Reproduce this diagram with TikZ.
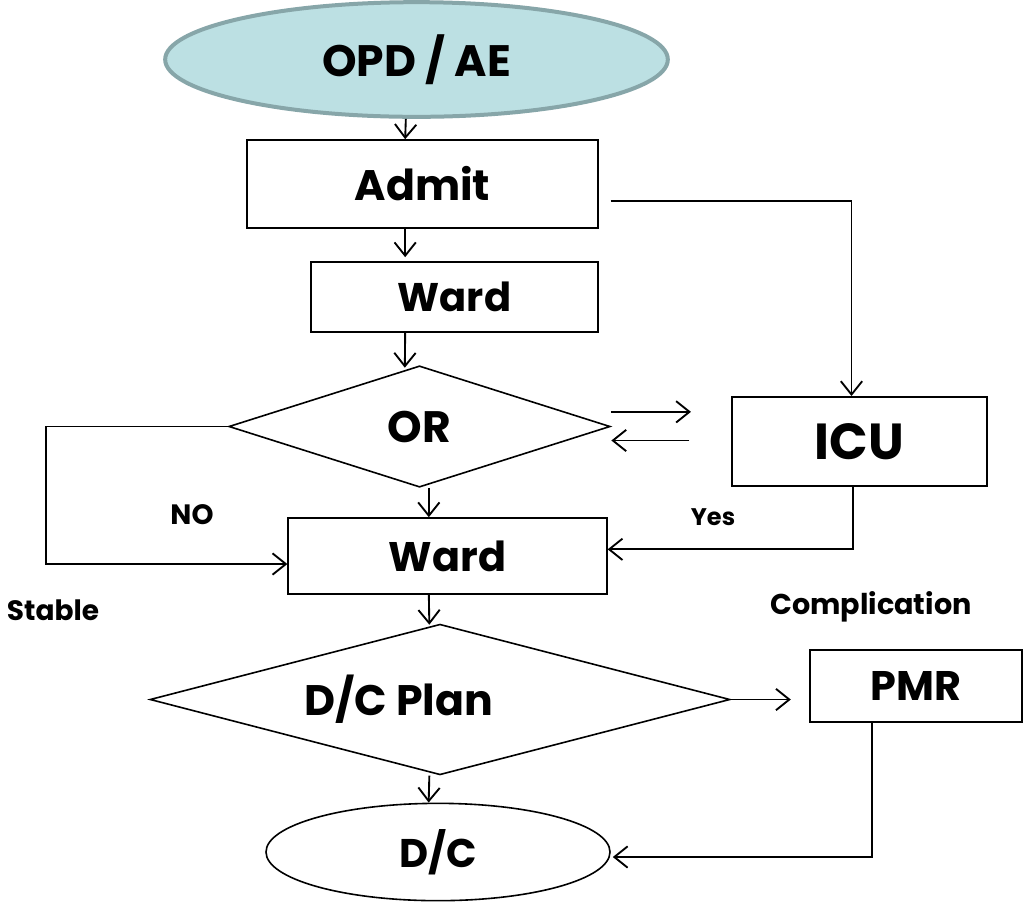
\documentclass[tikz,border=0pt]{standalone}
\usepackage{fontspec}
\setmainfont{Poppins}
\usetikzlibrary{shapes.geometric,arrows.meta}
\definecolor{opdfill}{HTML}{BCE0E3}
\definecolor{opdline}{HTML}{87A6A9}
\begin{document}
\begin{tikzpicture}[x=0.75pt,y=-0.75pt,
    txt/.style={font=\fontsize{#1pt}{#1pt}\selectfont\bfseries},
    box/.style={draw,line width=1.2pt,inner sep=0pt},
    arr/.style={line width=1.4pt,-{Straight Barb[length=10pt,width=16pt]}}]
    \useasboundingbox (0,0) rectangle (1025,901);
    \node[ellipse,draw=opdline,fill=opdfill,line width=3pt,minimum width=377pt,minimum height=86pt,txt=33] (opd) at (416.5,59.5) {OPD / AE};
    \node[box,minimum width=263pt,minimum height=66pt,txt=32] (admit) at (422.5,184) {Admit};
    \node[box,minimum width=215pt,minimum height=52.5pt,txt=30] (ward) at (454.5,297) {Ward};
    \node[box,diamond,minimum width=286pt,minimum height=91pt,txt=33] (or) at (419.5,426.5) {OR};
    \node[box,minimum width=191pt,minimum height=67pt,txt=38] (icu) at (859.5,441.5) {ICU};
    \node[box,minimum width=239pt,minimum height=57pt,txt=31] (wardb) at (447.5,556) {Ward};
    \node[box,diamond,minimum width=435pt,minimum height=113pt,label={[txt=32,xshift=-31pt]center:D/C Plan}] (plan) at (440,699.5) {};
    \node[box,minimum width=159pt,minimum height=54pt,txt=31] (pmr) at (916,686) {PMR};
    \node[box,ellipse,minimum width=258pt,minimum height=73pt,txt=30] (dc) at (438,852) {D/C};
    \node[txt=21] (no) at (192,515) {NO};
    \node[txt=18] (yes) at (713,517) {Yes};
    \node[txt=21] (stable) at (53,610) {Stable};
    \node[txt=21.5] (compl) at (871,607) {Complication};
    \draw[arr] ([xshift=-8pt]opd.south) -- ([xshift=-13pt]admit.north);
    \draw[arr] ([xshift=-13pt]admit.south) -- ([xshift=-37pt,yshift=3pt]ward.north);
    \draw[arr] ([xshift=-37pt]ward.south) -- ([xshift=-11pt,yshift=-2pt]or.north);
    \draw[arr] ([xshift=7pt]or.south) -- ([xshift=-14pt]wardb.north);
    \draw[arr] ([xshift=-14pt]wardb.south) -- ([xshift=-8pt,yshift=-1pt]plan.north);
    \draw[arr] ([xshift=-8pt]plan.south) -- ([xshift=-7pt]dc.north);
    \draw[arr] ([shift={(12,17)}]admit.east) -| ([xshift=-6pt]icu.north);
    \draw[arr] ([yshift=11pt]or.east) -- ++(80,0);
    \draw[arr] ([shift={(-42,-1)}]icu.west) -- ++(-78,0);
    \draw[arr] (or.west) -- ++(-182,0) |- ([yshift=-6pt]wardb.west);
    \draw[arr] ([xshift=-5pt]icu.south) |- ([yshift=5pt]wardb.east);
    \draw[arr] (plan.east) -- ++(60,0);
    \draw[arr] ([xshift=-33pt]pmr.south) |- ([shift={(2,5)}]dc.east);
\end{tikzpicture}
\end{document}
